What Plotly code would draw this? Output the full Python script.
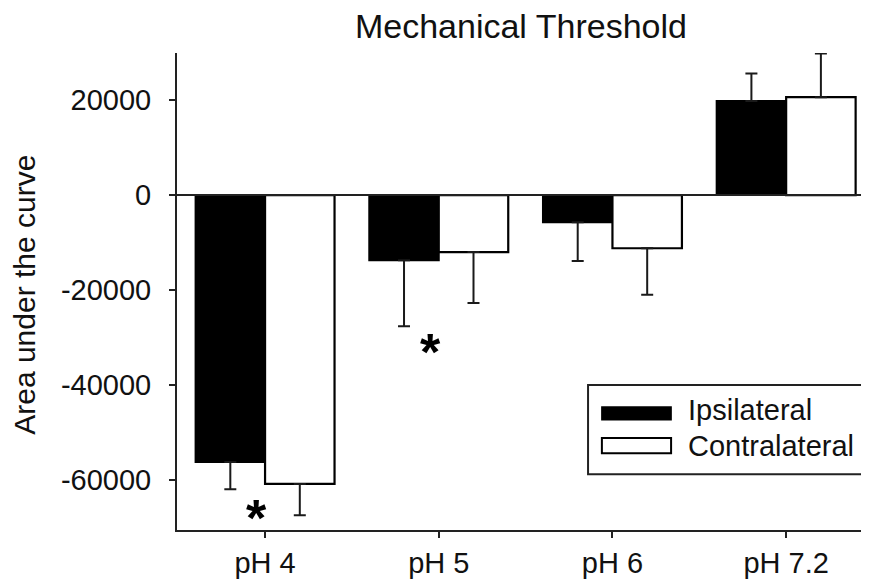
import plotly.graph_objects as go

# ---- data ----
categories = ["pH 4", "pH 5", "pH 6", "pH 7.2"]
ipsilateral = [-56200, -13700, -5700, 19800]
ipsilateral_err = [5700, 13900, 8200, 5800]
contralateral = [-60800, -12000, -11200, 20600]
contralateral_err = [6600, 10700, 9800, 9200]
y_tick_values = [-60000, -40000, -20000, 0, 20000]
y_tick_labels = ["-60000", "-40000", "-20000", "0", "20000"]
star_categories = [0, 1]
star_values = [-66000, -31200]

FONT = "Liberation Sans, Arial, Helvetica, sans-serif"
x_pos = list(range(len(categories)))


def one_sided(vals, errs):
    up = [e if v >= 0 else 0 for v, e in zip(vals, errs)]
    down = [e if v < 0 else 0 for v, e in zip(vals, errs)]
    return up, down


ip_up, ip_down = one_sided(ipsilateral, ipsilateral_err)
co_up, co_down = one_sided(contralateral, contralateral_err)

fig = go.Figure()
fig.add_trace(go.Bar(
    x=x_pos, y=ipsilateral, name="Ipsilateral",
    marker=dict(color="black", line=dict(color="black", width=2)),
    error_y=dict(type="data", symmetric=False, array=ip_up, arrayminus=ip_down,
                 color="#1a1a1a", thickness=2, width=6),
))
fig.add_trace(go.Bar(
    x=x_pos, y=contralateral, name="Contralateral",
    marker=dict(color="white", line=dict(color="black", width=2.2)),
    error_y=dict(type="data", symmetric=False, array=co_up, arrayminus=co_down,
                 color="#1a1a1a", thickness=2, width=6),
))

# significance asterisks
for c, v in zip(star_categories, star_values):
    fig.add_annotation(x=c - 0.05, y=v, xref="x", yref="y", text="<b>*</b>",
                       showarrow=False, font=dict(family=FONT, size=52, color="black"),
                       yanchor="middle", yshift=-9)

# zero line
fig.add_hline(y=0, line=dict(color="#222222", width=2))

# legend (drawn manually to keep wide swatches)
fig.add_shape(type="rect", xref="paper", yref="paper", x0=0.594, x1=1.05, y0=0.117, y1=0.304,
              line=dict(color="#222222", width=2), fillcolor="white", layer="above")
fig.add_shape(type="rect", xref="paper", yref="paper", x0=0.614, x1=0.714, y0=0.231, y1=0.258,
              line=dict(color="black", width=1.5), fillcolor="black", layer="above")
fig.add_shape(type="rect", xref="paper", yref="paper", x0=0.614, x1=0.714, y0=0.161, y1=0.193,
              line=dict(color="black", width=2), fillcolor="white", layer="above")
fig.add_annotation(x=0.735, y=0.2516, xref="paper", yref="paper", text="Ipsilateral",
                   showarrow=False, xanchor="left", yanchor="middle",
                   font=dict(family=FONT, size=29, color="#111111"))
fig.add_annotation(x=0.735, y=0.176, xref="paper", yref="paper", text="Contralateral",
                   showarrow=False, xanchor="left", yanchor="middle",
                   font=dict(family=FONT, size=29, color="#111111"))

# y-axis title
fig.add_annotation(x=-0.2197, y=0.493, xref="paper", yref="paper", text="Area under the curve",
                   showarrow=False, textangle=-90, xanchor="center", yanchor="middle",
                   font=dict(family=FONT, size=30, color="#111111"))

# page body has an 8px margin, so the figure is drawn 8px smaller and offset
fig.update_layout(
    width=861, height=573,
    margin=dict(l=169, r=0, t=45, b=51, autoexpand=False),
    paper_bgcolor="white", plot_bgcolor="white",
    barmode="group", bargap=0.2, bargroupgap=0,
    showlegend=False,
    font=dict(family=FONT, size=29, color="#111111"),
    title=dict(text="Mechanical Threshold", x=0.497, xref="paper", y=0.968, yref="container",
               xanchor="center", yanchor="middle", font=dict(family=FONT, size=34, color="#111111")),
)
fig.update_xaxes(
    range=[-0.507, 3.477], tickmode="array", tickvals=x_pos, ticktext=categories,
    showline=True, linecolor="#222222", linewidth=2, mirror=False,
    ticks="outside", ticklen=6, tickwidth=2, tickcolor="#222222",
    showgrid=False, zeroline=False, ticklabelstandoff=0, automargin=False,
    tickfont=dict(family=FONT, size=29, color="#111111"),
)
fig.update_yaxes(
    range=[-70500, 29900], tickmode="array", tickvals=y_tick_values, ticktext=y_tick_labels,
    showline=True, linecolor="#222222", linewidth=2, mirror=False,
    ticks="outside", ticklen=6, tickwidth=2, tickcolor="#222222",
    showgrid=False, zeroline=False, ticklabelstandoff=12, automargin=False,
    tickfont=dict(family=FONT, size=29, color="#111111"),
)

fig.write_html("out.html")
